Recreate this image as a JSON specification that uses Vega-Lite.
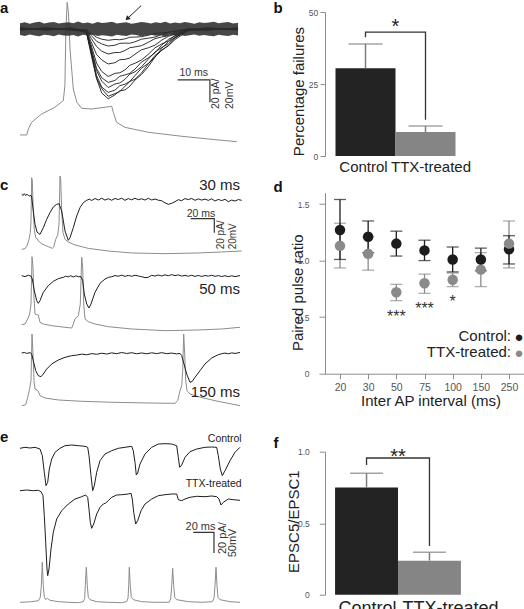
{
"$schema":"https://vega.github.io/schema/vega-lite/v6.json",
"padding":0,
"background":"white",
"config":{"font":"Liberation Sans","view":{"stroke":null},"axis":{"grid":false}},
"datasets":{
"aAp":[{"t":0,"v":-94.6},{"t":2.1,"v":-94.6},{"t":2.6,"v":-89.3},{"t":3.6,"v":-83.3},{"t":6.7,"v":-75.9},{"t":10.8,"v":-69.9},{"t":13.4,"v":-64.0},{"t":13.9,"v":-50.6},{"t":14.2,"v":-2.7},{"t":14.6,"v":23.8},{"t":15.0,"v":14.9},{"t":15.5,"v":-17.9},{"t":16.5,"v":-53.6},{"t":17.6,"v":-65.4},{"t":19.1,"v":-70.8},{"t":22.2,"v":-71.4},{"t":26.3,"v":-69.9},{"t":28.4,"v":-69.0},{"t":28.9,"v":-74.4},{"t":29.9,"v":-83.3},{"t":32.5,"v":-87.8},{"t":39.7,"v":-92.2},{"t":50.1,"v":-95.8},{"t":60.4,"v":-98.8},{"t":67.1,"v":-100.6}],
"aBand":[{"t":0,"hi":5.2,"lo":-5.4},{"t":1.5,"hi":6.1,"lo":-6.2},{"t":3,"hi":4.8,"lo":-4.9},{"t":4.5,"hi":5.9,"lo":-5.8},{"t":6,"hi":6.5,"lo":-6.4},{"t":7.5,"hi":5.0,"lo":-5.1},{"t":9,"hi":5.7,"lo":-5.6},{"t":10.5,"hi":6.3,"lo":-6.5},{"t":12,"hi":4.9,"lo":-5.0},{"t":13.5,"hi":5.5,"lo":-5.7},{"t":15,"hi":6.0,"lo":-6.1},{"t":16.5,"hi":5.2,"lo":-5.3},{"t":18,"hi":6.6,"lo":-6.7},{"t":19.5,"hi":5.1,"lo":-5.2},{"t":21,"hi":5.8,"lo":-5.9},{"t":22.5,"hi":4.7,"lo":-4.8},{"t":24,"hi":6.2,"lo":-6.3},{"t":25.5,"hi":5.4,"lo":-5.5},{"t":27,"hi":5.9,"lo":-6.0},{"t":28.5,"hi":6.4,"lo":-6.6},{"t":30,"hi":5.0,"lo":-5.1},{"t":31.5,"hi":5.6,"lo":-5.7},{"t":33,"hi":6.1,"lo":-6.2},{"t":34.5,"hi":4.8,"lo":-4.9},{"t":36,"hi":5.3,"lo":-5.4},{"t":37.5,"hi":6.3,"lo":-6.4},{"t":39,"hi":5.7,"lo":-5.8},{"t":40.5,"hi":5.0,"lo":-5.1},{"t":42,"hi":6.0,"lo":-6.1},{"t":43.5,"hi":5.4,"lo":-5.5},{"t":45,"hi":6.5,"lo":-6.6},{"t":46.5,"hi":4.9,"lo":-5.0},{"t":48,"hi":5.8,"lo":-5.9},{"t":49.5,"hi":5.2,"lo":-5.3},{"t":51,"hi":6.2,"lo":-6.3},{"t":52.5,"hi":5.5,"lo":-5.6},{"t":54,"hi":4.8,"lo":-4.9},{"t":55.5,"hi":6.0,"lo":-6.1},{"t":57,"hi":5.3,"lo":-5.4},{"t":58.5,"hi":5.9,"lo":-6.0},{"t":60,"hi":6.4,"lo":-6.5},{"t":61.5,"hi":5.1,"lo":-5.2},{"t":63,"hi":5.7,"lo":-5.8},{"t":64.5,"hi":6.2,"lo":-6.3},{"t":66,"hi":5.0,"lo":-5.1},{"t":67.5,"hi":5.6,"lo":-5.7}],
"aEpsc":[
{"s":1,"t":0,"v":1.2},{"s":1,"t":8,"v":-1.0},{"s":1,"t":16,"v":0.6},{"s":1,"t":20.6,"v":-3.5},{"s":1,"t":22,"v":-22.5},{"s":1,"t":23.7,"v":-44.2},{"s":1,"t":25.3,"v":-57.1},{"s":1,"t":27.3,"v":-62.3},{"s":1,"t":29.4,"v":-58.8},{"s":1,"t":30.9,"v":-55.2},{"s":1,"t":32.5,"v":-54.4},{"s":1,"t":34,"v":-51.1},{"s":1,"t":35.6,"v":-45.6},{"s":1,"t":37.6,"v":-40.7},{"s":1,"t":39.7,"v":-33.8},{"s":1,"t":41.8,"v":-25.0},{"s":1,"t":43.9,"v":-18.9},{"s":1,"t":46,"v":-14.8},{"s":1,"t":48,"v":-9.4},{"s":1,"t":52,"v":-1.6},{"s":1,"t":58,"v":0.9},{"s":1,"t":67.5,"v":-0.4},
{"s":2,"t":0,"v":-0.8},{"s":2,"t":8,"v":1.1},{"s":2,"t":16,"v":-0.3},{"s":2,"t":20.6,"v":-2.7},{"s":2,"t":22,"v":-20.4},{"s":2,"t":23.7,"v":-43.8},{"s":2,"t":25.3,"v":-53.2},{"s":2,"t":27.3,"v":-60.1},{"s":2,"t":29.4,"v":-57.7},{"s":2,"t":30.9,"v":-55.8},{"s":2,"t":32.5,"v":-51.2},{"s":2,"t":34,"v":-46.9},{"s":2,"t":35.6,"v":-44.8},{"s":2,"t":37.6,"v":-39.4},{"s":2,"t":39.7,"v":-31.2},{"s":2,"t":41.8,"v":-23.6},{"s":2,"t":43.9,"v":-18.9},{"s":2,"t":46,"v":-14.7},{"s":2,"t":48,"v":-8.1},{"s":2,"t":52,"v":-0.7},{"s":2,"t":58,"v":-1.0},{"s":2,"t":67.5,"v":0.6},
{"s":3,"t":0,"v":0.5},{"s":3,"t":8,"v":-0.6},{"s":3,"t":16,"v":0.9},{"s":3,"t":20.6,"v":-3.2},{"s":3,"t":22,"v":-19.5},{"s":3,"t":23.7,"v":-41.4},{"s":3,"t":25.3,"v":-51.8},{"s":3,"t":27.3,"v":-56.6},{"s":3,"t":29.4,"v":-54.6},{"s":3,"t":30.9,"v":-50.6},{"s":3,"t":32.5,"v":-49.3},{"s":3,"t":34,"v":-46.8},{"s":3,"t":35.6,"v":-41.6},{"s":3,"t":37.6,"v":-35.0},{"s":3,"t":39.7,"v":-30.8},{"s":3,"t":41.8,"v":-25.3},{"s":3,"t":43.9,"v":-17.2},{"s":3,"t":46,"v":-11.2},{"s":3,"t":48,"v":-7.6},{"s":3,"t":52,"v":-1.4},{"s":3,"t":58,"v":0.4},{"s":3,"t":67.5,"v":-0.9},
{"s":4,"t":0,"v":-0.4},{"s":4,"t":8,"v":0.8},{"s":4,"t":16,"v":-1.1},{"s":4,"t":20.6,"v":-2.2},{"s":4,"t":22,"v":-18.6},{"s":4,"t":23.7,"v":-37.0},{"s":4,"t":25.3,"v":-46.5},{"s":4,"t":27.3,"v":-52.3},{"s":4,"t":29.4,"v":-49.1},{"s":4,"t":30.9,"v":-48.2},{"s":4,"t":32.5,"v":-44.9},{"s":4,"t":34,"v":-40.3},{"s":4,"t":35.6,"v":-38.2},{"s":4,"t":37.6,"v":-33.8},{"s":4,"t":39.7,"v":-27.0},{"s":4,"t":41.8,"v":-20.5},{"s":4,"t":43.9,"v":-16.5},{"s":4,"t":46,"v":-13.1},{"s":4,"t":48,"v":-7.5},{"s":4,"t":52,"v":-0.8},{"s":4,"t":58,"v":0.7},{"s":4,"t":67.5,"v":0.3},
{"s":5,"t":0,"v":0.9},{"s":5,"t":8,"v":-0.7},{"s":5,"t":16,"v":0.4},{"s":5,"t":20.6,"v":-2.9},{"s":5,"t":22,"v":-16.4},{"s":5,"t":23.7,"v":-35.1},{"s":5,"t":25.3,"v":-43.5},{"s":5,"t":27.3,"v":-47.7},{"s":5,"t":29.4,"v":-45.9},{"s":5,"t":30.9,"v":-42.2},{"s":5,"t":32.5,"v":-41.0},{"s":5,"t":34,"v":-39.6},{"s":5,"t":35.6,"v":-35.8},{"s":5,"t":37.6,"v":-29.5},{"s":5,"t":39.7,"v":-25.8},{"s":5,"t":41.8,"v":-21.3},{"s":5,"t":43.9,"v":-14.4},{"s":5,"t":46,"v":-9.2},{"s":5,"t":48,"v":-6.2},{"s":5,"t":52,"v":-1.3},{"s":5,"t":58,"v":-0.6},{"s":5,"t":67.5,"v":0.8},
{"s":6,"t":0,"v":-1.1},{"s":6,"t":8,"v":0.5},{"s":6,"t":16,"v":-0.2},{"s":6,"t":20.6,"v":-1.8},{"s":6,"t":22,"v":-14.2},{"s":6,"t":23.7,"v":-30.4},{"s":6,"t":25.3,"v":-37.9},{"s":6,"t":27.3,"v":-42.4},{"s":6,"t":29.4,"v":-39.6},{"s":6,"t":30.9,"v":-39.1},{"s":6,"t":32.5,"v":-36.5},{"s":6,"t":34,"v":-32.4},{"s":6,"t":35.6,"v":-30.6},{"s":6,"t":37.6,"v":-27.7},{"s":6,"t":39.7,"v":-22.6},{"s":6,"t":41.8,"v":-16.8},{"s":6,"t":43.9,"v":-13.3},{"s":6,"t":46,"v":-10.6},{"s":6,"t":48,"v":-5.8},{"s":6,"t":52,"v":-0.5},{"s":6,"t":58,"v":0.9},{"s":6,"t":67.5,"v":-0.7},
{"s":7,"t":0,"v":0.3},{"s":7,"t":8,"v":-0.9},{"s":7,"t":16,"v":0.7},{"s":7,"t":20.6,"v":-1.9},{"s":7,"t":22,"v":-11.3},{"s":7,"t":23.7,"v":-22.7},{"s":7,"t":25.3,"v":-27.6},{"s":7,"t":27.3,"v":-31.2},{"s":7,"t":29.4,"v":-30.1},{"s":7,"t":30.9,"v":-27.4},{"s":7,"t":32.5,"v":-27.1},{"s":7,"t":34,"v":-25.9},{"s":7,"t":35.6,"v":-22.5},{"s":7,"t":37.6,"v":-18.6},{"s":7,"t":39.7,"v":-16.8},{"s":7,"t":41.8,"v":-14.4},{"s":7,"t":43.9,"v":-9.9},{"s":7,"t":46,"v":-6.4},{"s":7,"t":48,"v":-4.7},{"s":7,"t":52,"v":-0.9},{"s":7,"t":58,"v":0.2},{"s":7,"t":67.5,"v":0.6},
{"s":8,"t":0,"v":-0.6},{"s":8,"t":8,"v":0.4},{"s":8,"t":16,"v":-0.8},{"s":8,"t":20.6,"v":-1.2},{"s":8,"t":22,"v":-8.1},{"s":8,"t":23.7,"v":-15.6},{"s":8,"t":25.3,"v":-19.8},{"s":8,"t":27.3,"v":-22.3},{"s":8,"t":29.4,"v":-21.0},{"s":8,"t":30.9,"v":-21.0},{"s":8,"t":32.5,"v":-19.2},{"s":8,"t":34,"v":-16.7},{"s":8,"t":35.6,"v":-16.0},{"s":8,"t":37.6,"v":-14.9},{"s":8,"t":39.7,"v":-11.9},{"s":8,"t":41.8,"v":-8.6},{"s":8,"t":43.9,"v":-7.1},{"s":8,"t":46,"v":-5.9},{"s":8,"t":48,"v":-3.3},{"s":8,"t":52,"v":-0.4},{"s":8,"t":58,"v":-0.8},{"s":8,"t":67.5,"v":0.5},
{"s":9,"t":0,"v":0.7},{"s":9,"t":8,"v":-0.3},{"s":9,"t":16,"v":0.2},{"s":9,"t":20.6,"v":-0.9},{"s":9,"t":22,"v":-5.6},{"s":9,"t":23.7,"v":-10.9},{"s":9,"t":25.3,"v":-13.3},{"s":9,"t":27.3,"v":-15.2},{"s":9,"t":29.4,"v":-14.5},{"s":9,"t":30.9,"v":-12.8},{"s":9,"t":32.5,"v":-12.6},{"s":9,"t":34,"v":-12.7},{"s":9,"t":35.6,"v":-11.4},{"s":9,"t":37.6,"v":-9.1},{"s":9,"t":39.7,"v":-8.2},{"s":9,"t":41.8,"v":-7.2},{"s":9,"t":43.9,"v":-4.9},{"s":9,"t":46,"v":-3.0},{"s":9,"t":48,"v":-2.3},{"s":9,"t":52,"v":0.3},{"s":9,"t":58,"v":0.6},{"s":9,"t":67.5,"v":-0.4},
{"s":10,"t":0,"v":-0.2},{"s":10,"t":8,"v":0.6},{"s":10,"t":16,"v":-0.5},{"s":10,"t":20.6,"v":-0.6},{"s":10,"t":22,"v":-3.8},{"s":10,"t":23.7,"v":-7.4},{"s":10,"t":25.3,"v":-9.1},{"s":10,"t":27.3,"v":-10.1},{"s":10,"t":29.4,"v":-9.3},{"s":10,"t":30.9,"v":-9.6},{"s":10,"t":32.5,"v":-8.8},{"s":10,"t":34,"v":-7.4},{"s":10,"t":35.6,"v":-7.2},{"s":10,"t":37.6,"v":-6.9},{"s":10,"t":39.7,"v":-5.6},{"s":10,"t":41.8,"v":-4.0},{"s":10,"t":43.9,"v":-3.4},{"s":10,"t":46,"v":-2.9},{"s":10,"t":48,"v":-1.6},{"s":10,"t":52,"v":-0.3},{"s":10,"t":58,"v":-0.5},{"s":10,"t":67.5,"v":0.7}],
"cI":[
{"s":1,"t":0.0,"v":-33.3},{"s":1,"t":1.5,"v":-34.8},{"s":1,"t":2.6,"v":-32.4},{"s":1,"t":4.0,"v":-35.2},{"s":1,"t":5.3,"v":-33.0},{"s":1,"t":6.6,"v":-34.9},{"s":1,"t":8.0,"v":-35.7},{"s":1,"t":9.2,"v":-34.6},{"s":1,"t":10.0,"v":-37.1},{"s":1,"t":11.6,"v":-57.1},{"s":1,"t":13.3,"v":-76.2},{"s":1,"t":15.3,"v":-87.1},{"s":1,"t":18.3,"v":-90.5},{"s":1,"t":21.6,"v":-81.0},{"s":1,"t":25.0,"v":-69.0},{"s":1,"t":28.3,"v":-59.5},{"s":1,"t":31.6,"v":-51.4},{"s":1,"t":35.0,"v":-47.6},{"s":1,"t":37.3,"v":-46.7},{"s":1,"t":40.0,"v":-57.1},{"s":1,"t":43.3,"v":-85.7},{"s":1,"t":46.6,"v":-99.0},{"s":1,"t":48.3,"v":-95.2},{"s":1,"t":51.6,"v":-81.0},{"s":1,"t":55.0,"v":-64.3},{"s":1,"t":58.3,"v":-52.4},{"s":1,"t":61.6,"v":-45.2},{"s":1,"t":65.0,"v":-41.9},{"s":1,"t":67.5,"v":-40.2},{"s":1,"t":70.0,"v":-42.1},{"s":1,"t":73.3,"v":-39.3},{"s":1,"t":76.6,"v":-41.4},{"s":1,"t":80.0,"v":-38.9},{"s":1,"t":83.3,"v":-41.6},{"s":1,"t":86.6,"v":-39.6},{"s":1,"t":90.0,"v":-41.8},{"s":1,"t":93.3,"v":-39.2},{"s":1,"t":96.6,"v":-40.8},{"s":1,"t":100.0,"v":-38.8},{"s":1,"t":103.3,"v":-41.9},{"s":1,"t":106.6,"v":-39.4},{"s":1,"t":110.0,"v":-41.2},{"s":1,"t":113.3,"v":-38.9},{"s":1,"t":116.6,"v":-41.0},{"s":1,"t":120.0,"v":-39.7},{"s":1,"t":123.3,"v":-41.5},{"s":1,"t":126.6,"v":-39.0},{"s":1,"t":130.0,"v":-41.4},{"s":1,"t":133.3,"v":-40.0},{"s":1,"t":136.6,"v":-41.7},{"s":1,"t":140.0,"v":-42.5},{"s":1,"t":143.3,"v":-45.5},{"s":1,"t":146.6,"v":-47.6},{"s":1,"t":150.0,"v":-46.2},{"s":1,"t":153.3,"v":-43.8},{"s":1,"t":156.6,"v":-41.0},{"s":1,"t":160.0,"v":-42.4},{"s":1,"t":163.3,"v":-39.4},{"s":1,"t":166.6,"v":-40.9},{"s":1,"t":170.0,"v":-39.2},{"s":1,"t":173.3,"v":-41.9},{"s":1,"t":176.6,"v":-39.8},{"s":1,"t":180.0,"v":-41.6},{"s":1,"t":183.3,"v":-40.1},{"s":1,"t":186.6,"v":-42.0},{"s":1,"t":190.0,"v":-39.7},{"s":1,"t":193.3,"v":-42.9},{"s":1,"t":196.6,"v":-40.6},{"s":1,"t":200.0,"v":-42.3},{"s":1,"t":203.3,"v":-40.4},{"s":1,"t":206.6,"v":-43.8},{"s":1,"t":210.0,"v":-41.5},{"s":1,"t":213.3,"v":-43.0},{"s":1,"t":216.6,"v":-40.8},{"s":1,"t":220.0,"v":-41.9},
{"s":2,"t":0.0,"v":-149.5},{"s":2,"t":3.3,"v":-150.8},{"s":2,"t":6.6,"v":-149.0},{"s":2,"t":9.3,"v":-150.2},{"s":2,"t":10.6,"v":-154.3},{"s":2,"t":12.6,"v":-171.0},{"s":2,"t":15.0,"v":-185.2},{"s":2,"t":16.6,"v":-189.0},{"s":2,"t":18.3,"v":-185.2},{"s":2,"t":21.6,"v":-173.3},{"s":2,"t":26.6,"v":-163.8},{"s":2,"t":31.6,"v":-157.6},{"s":2,"t":36.6,"v":-153.8},{"s":2,"t":41.6,"v":-151.9},{"s":2,"t":44.0,"v":-150.3},{"s":2,"t":46.6,"v":-151.2},{"s":2,"t":49.0,"v":-149.6},{"s":2,"t":51.6,"v":-151.4},{"s":2,"t":54.0,"v":-149.8},{"s":2,"t":56.6,"v":-150.9},{"s":2,"t":59.3,"v":-151.0},{"s":2,"t":61.0,"v":-156.7},{"s":2,"t":62.6,"v":-175.7},{"s":2,"t":65.0,"v":-190.0},{"s":2,"t":67.3,"v":-195.7},{"s":2,"t":69.3,"v":-190.0},{"s":2,"t":73.3,"v":-173.3},{"s":2,"t":78.3,"v":-160.5},{"s":2,"t":83.3,"v":-154.3},{"s":2,"t":86.6,"v":-152.0},{"s":2,"t":90.0,"v":-151.0},{"s":2,"t":93.3,"v":-149.4},{"s":2,"t":96.6,"v":-150.3},{"s":2,"t":100.0,"v":-148.8},{"s":2,"t":103.3,"v":-150.5},{"s":2,"t":106.6,"v":-149.2},{"s":2,"t":110.0,"v":-150.4},{"s":2,"t":113.3,"v":-148.9},{"s":2,"t":116.6,"v":-150.0},{"s":2,"t":120.0,"v":-151.0},{"s":2,"t":123.3,"v":-152.4},{"s":2,"t":126.6,"v":-151.8},{"s":2,"t":130.0,"v":-149.0},{"s":2,"t":133.3,"v":-150.1},{"s":2,"t":136.6,"v":-148.6},{"s":2,"t":140.0,"v":-149.9},{"s":2,"t":143.3,"v":-148.3},{"s":2,"t":146.6,"v":-149.6},{"s":2,"t":150.0,"v":-148.1},{"s":2,"t":153.3,"v":-149.5},{"s":2,"t":156.6,"v":-148.4},{"s":2,"t":160.0,"v":-150.1},{"s":2,"t":163.3,"v":-149.0},{"s":2,"t":166.6,"v":-150.4},{"s":2,"t":170.0,"v":-148.9},{"s":2,"t":173.3,"v":-150.6},{"s":2,"t":176.6,"v":-149.2},{"s":2,"t":180.0,"v":-150.7},{"s":2,"t":183.3,"v":-149.3},{"s":2,"t":186.6,"v":-150.2},{"s":2,"t":190.0,"v":-148.9},{"s":2,"t":193.3,"v":-150.5},{"s":2,"t":196.6,"v":-149.4},{"s":2,"t":200.0,"v":-150.8},{"s":2,"t":203.3,"v":-149.6},{"s":2,"t":206.6,"v":-150.9},{"s":2,"t":210.0,"v":-149.7},{"s":2,"t":213.3,"v":-150.8},{"s":2,"t":218.3,"v":-149.5},
{"s":3,"t":0.0,"v":-260.0},{"s":3,"t":2.5,"v":-259.2},{"s":3,"t":5.0,"v":-260.6},{"s":3,"t":8.3,"v":-259.5},{"s":3,"t":10.0,"v":-261.4},{"s":3,"t":11.6,"v":-271.0},{"s":3,"t":14.0,"v":-285.2},{"s":3,"t":16.6,"v":-292.4},{"s":3,"t":19.3,"v":-293.8},{"s":3,"t":21.6,"v":-290.0},{"s":3,"t":25.0,"v":-282.9},{"s":3,"t":30.0,"v":-275.7},{"s":3,"t":36.6,"v":-270.0},{"s":3,"t":43.3,"v":-266.2},{"s":3,"t":50.0,"v":-263.8},{"s":3,"t":55.0,"v":-263.0},{"s":3,"t":60.0,"v":-261.6},{"s":3,"t":65.0,"v":-262.5},{"s":3,"t":70.0,"v":-260.9},{"s":3,"t":75.0,"v":-261.8},{"s":3,"t":80.0,"v":-260.3},{"s":3,"t":85.0,"v":-261.5},{"s":3,"t":90.0,"v":-259.8},{"s":3,"t":95.0,"v":-261.0},{"s":3,"t":100.0,"v":-259.3},{"s":3,"t":105.0,"v":-260.7},{"s":3,"t":110.0,"v":-259.6},{"s":3,"t":115.0,"v":-261.1},{"s":3,"t":120.0,"v":-259.9},{"s":3,"t":125.0,"v":-261.2},{"s":3,"t":130.0,"v":-259.7},{"s":3,"t":135.0,"v":-260.9},{"s":3,"t":140.0,"v":-259.5},{"s":3,"t":145.0,"v":-261.0},{"s":3,"t":150.0,"v":-260.1},{"s":3,"t":155.0,"v":-261.3},{"s":3,"t":158.3,"v":-260.6},{"s":3,"t":160.0,"v":-263.8},{"s":3,"t":162.3,"v":-275.7},{"s":3,"t":165.0,"v":-290.0},{"s":3,"t":168.3,"v":-301.9},{"s":3,"t":170.6,"v":-300.5},{"s":3,"t":173.3,"v":-294.8},{"s":3,"t":178.3,"v":-285.2},{"s":3,"t":183.3,"v":-275.7},{"s":3,"t":190.0,"v":-267.1},{"s":3,"t":196.6,"v":-262.4},{"s":3,"t":200.0,"v":-261.0},{"s":3,"t":203.3,"v":-260.1},{"s":3,"t":206.6,"v":-261.2},{"s":3,"t":210.0,"v":-259.8},{"s":3,"t":213.3,"v":-260.6},{"s":3,"t":218.3,"v":-259.3}],
"cV":[
{"s":1,"t":0.0,"v":-111.9},{"s":1,"t":3.3,"v":-111.0},{"s":1,"t":5.3,"v":-107.1},{"s":1,"t":7.3,"v":-97.6},{"s":1,"t":8.6,"v":-88.1},{"s":1,"t":9.3,"v":-71.4},{"s":1,"t":10.0,"v":-9.5},{"s":1,"t":10.6,"v":-14.3},{"s":1,"t":11.6,"v":-57.1},{"s":1,"t":12.6,"v":-83.3},{"s":1,"t":14.0,"v":-95.2},{"s":1,"t":15.6,"v":-96.7},{"s":1,"t":16.6,"v":-100.0},{"s":1,"t":20.0,"v":-103.8},{"s":1,"t":25.0,"v":-107.1},{"s":1,"t":30.6,"v":-110.5},{"s":1,"t":32.0,"v":-108.6},{"s":1,"t":34.0,"v":-97.6},{"s":1,"t":36.0,"v":-91.4},{"s":1,"t":37.3,"v":-76.2},{"s":1,"t":38.3,"v":-7.1},{"s":1,"t":39.0,"v":-11.9},{"s":1,"t":40.0,"v":-57.1},{"s":1,"t":41.3,"v":-88.1},{"s":1,"t":43.3,"v":-97.6},{"s":1,"t":46.6,"v":-101.4},{"s":1,"t":53.3,"v":-105.7},{"s":1,"t":66.6,"v":-110.5},{"s":1,"t":86.6,"v":-114.3},{"s":1,"t":110.0,"v":-117.1},{"s":1,"t":143.3,"v":-118.1},{"s":1,"t":176.6,"v":-117.1},{"s":1,"t":200.0,"v":-115.7},{"s":1,"t":220.0,"v":-114.3},
{"s":2,"t":0.0,"v":-219.5},{"s":2,"t":3.3,"v":-218.6},{"s":2,"t":6.0,"v":-211.4},{"s":2,"t":8.0,"v":-204.3},{"s":2,"t":9.3,"v":-190.0},{"s":2,"t":10.3,"v":-122.4},{"s":2,"t":11.3,"v":-137.6},{"s":2,"t":12.3,"v":-180.5},{"s":2,"t":13.3,"v":-204.3},{"s":2,"t":15.0,"v":-205.2},{"s":2,"t":16.6,"v":-205.7},{"s":2,"t":18.3,"v":-216.2},{"s":2,"t":21.6,"v":-218.6},{"s":2,"t":30.0,"v":-221.0},{"s":2,"t":43.3,"v":-223.3},{"s":2,"t":50.0,"v":-224.3},{"s":2,"t":51.6,"v":-218.6},{"s":2,"t":53.3,"v":-211.4},{"s":2,"t":56.6,"v":-206.7},{"s":2,"t":58.6,"v":-190.0},{"s":2,"t":60.0,"v":-123.3},{"s":2,"t":61.0,"v":-137.6},{"s":2,"t":62.0,"v":-190.0},{"s":2,"t":63.3,"v":-211.4},{"s":2,"t":66.6,"v":-215.2},{"s":2,"t":73.3,"v":-218.6},{"s":2,"t":86.6,"v":-222.4},{"s":2,"t":110.0,"v":-225.7},{"s":2,"t":143.3,"v":-228.1},{"s":2,"t":176.6,"v":-227.1},{"s":2,"t":200.0,"v":-225.7},{"s":2,"t":218.3,"v":-223.3},
{"s":3,"t":0.0,"v":-335.2},{"s":3,"t":4.0,"v":-333.8},{"s":3,"t":6.0,"v":-323.3},{"s":3,"t":7.6,"v":-313.8},{"s":3,"t":9.3,"v":-299.5},{"s":3,"t":10.3,"v":-232.9},{"s":3,"t":11.3,"v":-261.4},{"s":3,"t":12.3,"v":-299.5},{"s":3,"t":13.3,"v":-311.4},{"s":3,"t":15.3,"v":-312.9},{"s":3,"t":16.6,"v":-314.8},{"s":3,"t":18.3,"v":-321.0},{"s":3,"t":23.3,"v":-324.3},{"s":3,"t":36.6,"v":-327.1},{"s":3,"t":60.0,"v":-329.0},{"s":3,"t":93.3,"v":-330.5},{"s":3,"t":126.6,"v":-331.4},{"s":3,"t":153.3,"v":-331.9},{"s":3,"t":156.0,"v":-328.1},{"s":3,"t":158.3,"v":-313.8},{"s":3,"t":160.0,"v":-306.7},{"s":3,"t":161.0,"v":-285.2},{"s":3,"t":162.0,"v":-232.9},{"s":3,"t":163.0,"v":-261.4},{"s":3,"t":164.0,"v":-299.5},{"s":3,"t":165.3,"v":-313.8},{"s":3,"t":168.3,"v":-318.6},{"s":3,"t":176.6,"v":-322.4},{"s":3,"t":193.3,"v":-328.1},{"s":3,"t":210.0,"v":-332.9},{"s":3,"t":218.3,"v":-335.2}],
"eI":[
{"s":"c","t":0.0,"v":-19.3},{"s":"c","t":5.0,"v":-18.3},{"s":"c","t":10.0,"v":-19.0},{"s":"c","t":15.0,"v":-18.3},{"s":"c","t":20.0,"v":-20.0},{"s":"c","t":22.3,"v":-26.7},{"s":"c","t":24.3,"v":-43.3},{"s":"c","t":26.0,"v":-56.7},{"s":"c","t":27.7,"v":-53.3},{"s":"c","t":29.3,"v":-40.0},{"s":"c","t":31.7,"v":-30.0},{"s":"c","t":35.0,"v":-23.3},{"s":"c","t":40.0,"v":-19.3},{"s":"c","t":45.0,"v":-16.7},{"s":"c","t":51.7,"v":-16.0},{"s":"c","t":58.3,"v":-16.7},{"s":"c","t":65.0,"v":-17.3},{"s":"c","t":67.7,"v":-18.3},{"s":"c","t":69.0,"v":-26.7},{"s":"c","t":71.0,"v":-46.7},{"s":"c","t":72.7,"v":-61.7},{"s":"c","t":74.3,"v":-56.7},{"s":"c","t":76.7,"v":-43.3},{"s":"c","t":80.0,"v":-31.7},{"s":"c","t":85.0,"v":-25.0},{"s":"c","t":91.7,"v":-21.7},{"s":"c","t":98.3,"v":-19.3},{"s":"c","t":105.0,"v":-18.3},{"s":"c","t":111.7,"v":-17.3},{"s":"c","t":113.3,"v":-21.7},{"s":"c","t":115.0,"v":-33.3},{"s":"c","t":116.3,"v":-46.0},{"s":"c","t":117.7,"v":-44.0},{"s":"c","t":120.0,"v":-35.0},{"s":"c","t":125.0,"v":-25.0},{"s":"c","t":131.7,"v":-18.3},{"s":"c","t":138.3,"v":-15.0},{"s":"c","t":145.0,"v":-14.7},{"s":"c","t":151.7,"v":-15.0},{"s":"c","t":156.7,"v":-16.7},{"s":"c","t":158.3,"v":-28.3},{"s":"c","t":159.7,"v":-38.3},{"s":"c","t":161.7,"v":-36.0},{"s":"c","t":165.0,"v":-28.3},{"s":"c","t":170.0,"v":-22.7},{"s":"c","t":176.7,"v":-20.0},{"s":"c","t":185.0,"v":-18.3},{"s":"c","t":191.7,"v":-18.0},{"s":"c","t":196.7,"v":-18.3},{"s":"c","t":198.3,"v":-26.7},{"s":"c","t":200.3,"v":-40.0},{"s":"c","t":202.3,"v":-46.7},{"s":"c","t":205.0,"v":-41.7},{"s":"c","t":210.0,"v":-31.7},{"s":"c","t":215.0,"v":-23.3},{"s":"c","t":220.0,"v":-18.3},
{"s":"x","t":0.0,"v":-61.7},{"s":"x","t":6.7,"v":-61.0},{"s":"x","t":13.3,"v":-61.7},{"s":"x","t":18.3,"v":-61.3},{"s":"x","t":21.0,"v":-62.7},{"s":"x","t":23.0,"v":-66.7},{"s":"x","t":24.3,"v":-86.7},{"s":"x","t":25.7,"v":-113.3},{"s":"x","t":27.0,"v":-140.0},{"s":"x","t":27.7,"v":-146.7},{"s":"x","t":29.0,"v":-140.0},{"s":"x","t":31.0,"v":-120.0},{"s":"x","t":33.3,"v":-103.3},{"s":"x","t":36.7,"v":-90.0},{"s":"x","t":41.7,"v":-81.7},{"s":"x","t":48.3,"v":-75.0},{"s":"x","t":55.0,"v":-70.0},{"s":"x","t":61.7,"v":-67.7},{"s":"x","t":65.7,"v":-66.0},{"s":"x","t":67.7,"v":-68.3},{"s":"x","t":69.0,"v":-80.0},{"s":"x","t":70.3,"v":-93.3},{"s":"x","t":71.7,"v":-99.3},{"s":"x","t":73.7,"v":-95.0},{"s":"x","t":76.7,"v":-85.0},{"s":"x","t":80.0,"v":-78.3},{"s":"x","t":83.3,"v":-75.0},{"s":"x","t":85.7,"v":-74.0},{"s":"x","t":88.3,"v":-71.7},{"s":"x","t":91.7,"v":-68.3},{"s":"x","t":96.7,"v":-66.0},{"s":"x","t":101.7,"v":-65.7},{"s":"x","t":108.3,"v":-65.0},{"s":"x","t":111.0,"v":-64.3},{"s":"x","t":112.3,"v":-70.0},{"s":"x","t":113.7,"v":-83.3},{"s":"x","t":115.7,"v":-95.0},{"s":"x","t":117.7,"v":-91.7},{"s":"x","t":121.0,"v":-81.7},{"s":"x","t":125.0,"v":-75.0},{"s":"x","t":131.7,"v":-70.0},{"s":"x","t":138.3,"v":-66.7},{"s":"x","t":145.0,"v":-65.7},{"s":"x","t":151.7,"v":-65.0},{"s":"x","t":156.7,"v":-65.0},{"s":"x","t":158.3,"v":-70.7},{"s":"x","t":161.7,"v":-71.7},{"s":"x","t":165.0,"v":-70.0},{"s":"x","t":170.0,"v":-68.3},{"s":"x","t":176.7,"v":-67.3},{"s":"x","t":185.0,"v":-67.7},{"s":"x","t":191.7,"v":-67.0},{"s":"x","t":196.7,"v":-67.7},{"s":"x","t":199.0,"v":-70.0},{"s":"x","t":201.0,"v":-76.0},{"s":"x","t":203.3,"v":-73.3},{"s":"x","t":208.3,"v":-70.0},{"s":"x","t":213.3,"v":-70.7},{"s":"x","t":220.0,"v":-71.3}],
"eV":[{"t":0.0,"v":-173.3},{"t":11.7,"v":-172.7},{"t":18.3,"v":-171.7},{"t":20.3,"v":-168.3},{"t":21.3,"v":-156.7},{"t":22.3,"v":-133.3},{"t":23.3,"v":-156.7},{"t":24.3,"v":-168.3},{"t":25.7,"v":-170.7},{"t":27.3,"v":-169.3},{"t":30.0,"v":-171.3},{"t":38.3,"v":-172.7},{"t":48.3,"v":-173.3},{"t":58.3,"v":-173.7},{"t":63.3,"v":-172.7},{"t":64.7,"v":-169.3},{"t":65.3,"v":-156.7},{"t":66.3,"v":-138.3},{"t":67.3,"v":-156.7},{"t":68.3,"v":-168.3},{"t":70.0,"v":-170.7},{"t":76.7,"v":-172.7},{"t":88.3,"v":-173.3},{"t":101.7,"v":-173.7},{"t":106.7,"v":-172.7},{"t":108.0,"v":-169.3},{"t":108.7,"v":-156.7},{"t":109.3,"v":-138.3},{"t":110.3,"v":-156.7},{"t":111.3,"v":-168.3},{"t":113.3,"v":-170.7},{"t":121.7,"v":-172.7},{"t":135.0,"v":-173.3},{"t":149.0,"v":-173.3},{"t":150.7,"v":-170.0},{"t":151.7,"v":-156.7},{"t":152.7,"v":-139.3},{"t":153.7,"v":-156.7},{"t":154.7,"v":-168.3},{"t":156.7,"v":-170.7},{"t":168.3,"v":-172.7},{"t":181.7,"v":-173.3},{"t":192.3,"v":-172.7},{"t":194.0,"v":-169.3},{"t":195.0,"v":-156.7},{"t":196.0,"v":-138.3},{"t":197.0,"v":-156.7},{"t":198.0,"v":-168.3},{"t":200.0,"v":-170.7},{"t":210.0,"v":-172.7},{"t":220.0,"v":-173.3}],
"bBars":[{"g":"Control","m":30.5,"e":38.9},{"g":"TTX-treated","m":8.3,"e":10.4}],
"bBr":[{"g":"Control","m":41.2,"o":1},{"g":"Control","m":43,"o":2},{"g":"TTX-treated","m":43,"o":3},{"g":"TTX-treated","m":12.6,"o":4}],
"fBars":[{"g":"Control","m":0.75,"e":0.85},{"g":"TTX-treated","m":0.238,"e":0.296}],
"fBr":[{"g":"Control","m":0.907,"o":1},{"g":"Control","m":0.956,"o":2},{"g":"TTX-treated","m":0.956,"o":3},{"g":"TTX-treated","m":0.34,"o":4}],
"dPts":[
{"x":20,"g":"Control","m":1.27,"lo":1.01,"hi":1.54},{"x":30,"g":"Control","m":1.21,"lo":1.07,"hi":1.35},{"x":50,"g":"Control","m":1.15,"lo":1.04,"hi":1.26},{"x":75,"g":"Control","m":1.09,"lo":1.0,"hi":1.18},{"x":100,"g":"Control","m":1.01,"lo":0.9,"hi":1.12},{"x":150,"g":"Control","m":1.01,"lo":0.91,"hi":1.11},{"x":250,"g":"Control","m":1.1,"lo":0.97,"hi":1.22},
{"x":20,"g":"TTX","m":1.13,"lo":0.935,"hi":1.33},{"x":30,"g":"TTX","m":1.06,"lo":0.915,"hi":1.21},{"x":50,"g":"TTX","m":0.72,"lo":0.646,"hi":0.79},{"x":75,"g":"TTX","m":0.8,"lo":0.71,"hi":0.88},{"x":100,"g":"TTX","m":0.83,"lo":0.77,"hi":0.89},{"x":150,"g":"TTX","m":0.92,"lo":0.77,"hi":1.07},{"x":250,"g":"TTX","m":1.15,"lo":0.935,"hi":1.35}]
},
"hconcat":[
{"spacing":0,"vconcat":[
{"width":245,"height":159,
"encoding":{"x":{"field":"t","type":"quantitative","scale":{"domain":[-6.19,69.66],"nice":false,"zero":false},"axis":null},"y":{"field":"v","type":"quantitative","scale":{"domain":[-126.79,15.18],"nice":false,"zero":false},"axis":null}},
"layer":[
{"data":{"name":"aAp"},"mark":{"type":"line","color":"#8c8c8c","strokeWidth":1}},
{"data":{"name":"aEpsc"},"mark":{"type":"line","color":"#1e1e1e","strokeWidth":0.9},"encoding":{"detail":{"field":"s","type":"nominal"}}},
{"data":{"name":"aBand"},"mark":{"type":"area","color":"#2e2e2e","opacity":0.88},"encoding":{"y":{"field":"lo","type":"quantitative"},"y2":{"field":"hi"}}},
{"data":{"values":[{"t":48.8,"v":-45.5,"o":1},{"t":58.8,"v":-45.5,"o":2},{"t":58.8,"v":-65.4,"o":3}]},"mark":{"type":"line","color":"#333333","strokeWidth":1.2},"encoding":{"order":{"field":"o","type":"quantitative"}}},
{"data":{"values":[{"t":37.5,"v":20.8,"t2":33.2,"v2":9.2}]},"mark":{"type":"rule","color":"#222222","strokeWidth":1},"encoding":{"x2":{"field":"t2"},"y2":{"field":"v2"}}},
{"data":{"values":[{"t":33.2,"v":9.2}]},"mark":{"type":"point","shape":"triangle-up","filled":true,"color":"#222222","size":28,"angle":225,"opacity":1}},
{"data":{"values":[{"t":53.8,"v":-42.2,"txt":"10 ms"}]},"mark":{"type":"text","fontSize":10.5,"color":"#333333","align":"center","baseline":"alphabetic"},"encoding":{"text":{"field":"txt"}}},
{"data":{"values":[{"t":60.8,"v":-71.4,"txt":"20 pA/"},{"t":65.0,"v":-71.4,"txt":"20mV"}]},"mark":{"type":"text","fontSize":10.5,"color":"#333333","align":"left","baseline":"middle","angle":-90},"encoding":{"text":{"field":"txt"}}},
{"data":{"values":[{"t":-6.19,"v":14.7,"txt":"a"}]},"mark":{"type":"text","fontSize":15,"fontWeight":"bold","color":"#111111","align":"left","baseline":"alphabetic"},"encoding":{"text":{"field":"txt"}}}
]},
{"width":245,"height":258,
"encoding":{"x":{"field":"t","type":"quantitative","scale":{"domain":[-21.7,223.3],"nice":false,"zero":false},"axis":null},"y":{"field":"v","type":"quantitative","scale":{"domain":[-368.57,0],"nice":false,"zero":false},"axis":null}},
"layer":[
{"data":{"name":"cV"},"mark":{"type":"line","color":"#8c8c8c","strokeWidth":1},"encoding":{"detail":{"field":"s","type":"nominal"}}},
{"data":{"name":"cI"},"mark":{"type":"line","color":"#1e1e1e","strokeWidth":1},"encoding":{"detail":{"field":"s","type":"nominal"}}},
{"data":{"values":[{"t":169,"v":-68.1,"o":1},{"t":192.6,"v":-68.1,"o":2},{"t":192.6,"v":-88.1,"o":3}]},"mark":{"type":"line","color":"#333333","strokeWidth":1.2},"encoding":{"order":{"field":"o","type":"quantitative"}}},
{"data":{"values":[{"t":218.3,"v":-27.1,"txt":"30 ms"},{"t":218.3,"v":-175.7,"txt":"50 ms"},{"t":218.3,"v":-322.9,"txt":"150 ms"}]},"mark":{"type":"text","fontSize":15,"color":"#222222","align":"right","baseline":"alphabetic"},"encoding":{"text":{"field":"txt"}}},
{"data":{"values":[{"t":179.3,"v":-65,"txt":"20 ms"}]},"mark":{"type":"text","fontSize":10.5,"color":"#333333","align":"center","baseline":"alphabetic"},"encoding":{"text":{"field":"txt"}}},
{"data":{"values":[{"t":199.1,"v":-111.9,"txt":"20 pA/"},{"t":211.3,"v":-111.9,"txt":"20mV"}]},"mark":{"type":"text","fontSize":10,"color":"#333333","align":"left","baseline":"middle","angle":-90},"encoding":{"text":{"field":"txt"}}},
{"data":{"values":[{"t":-21.7,"v":-26.7,"txt":"c"}]},"mark":{"type":"text","fontSize":15,"fontWeight":"bold","color":"#111111","align":"left","baseline":"alphabetic"},"encoding":{"text":{"field":"txt"}}}
]},
{"width":245,"height":179,
"encoding":{"x":{"field":"t","type":"quantitative","scale":{"domain":[-20,225],"nice":false,"zero":false},"axis":null},"y":{"field":"v","type":"quantitative","scale":{"domain":[-179,0],"nice":false,"zero":false},"axis":null}},
"layer":[
{"data":{"name":"eV"},"mark":{"type":"line","color":"#8c8c8c","strokeWidth":1}},
{"data":{"name":"eI"},"mark":{"type":"line","color":"#1e1e1e","strokeWidth":1},"encoding":{"detail":{"field":"s","type":"nominal"}}},
{"data":{"values":[{"t":173.3,"v":-103.3,"o":1},{"t":194,"v":-103.3,"o":2},{"t":194,"v":-124,"o":3}]},"mark":{"type":"line","color":"#333333","strokeWidth":1.2},"encoding":{"order":{"field":"o","type":"quantitative"}}},
{"data":{"values":[{"t":221.7,"v":-13.3,"txt":"Control"},{"t":221.7,"v":-58.3,"txt":"TTX-treated"}]},"mark":{"type":"text","fontSize":10.5,"color":"#222222","align":"right","baseline":"alphabetic"},"encoding":{"text":{"field":"txt"}}},
{"data":{"values":[{"t":180.5,"v":-101,"txt":"20 ms"}]},"mark":{"type":"text","fontSize":11,"color":"#333333","align":"center","baseline":"alphabetic"},"encoding":{"text":{"field":"txt"}}},
{"data":{"values":[{"t":202.8,"v":-125,"txt":"20 pA/"},{"t":213,"v":-128.3,"txt":"50mV"}]},"mark":{"type":"text","fontSize":11,"color":"#333333","align":"left","baseline":"middle","angle":-90},"encoding":{"text":{"field":"txt"}}},
{"data":{"values":[{"t":-20,"v":-12.7,"txt":"e"}]},"mark":{"type":"text","fontSize":15,"fontWeight":"bold","color":"#111111","align":"left","baseline":"alphabetic"},"encoding":{"text":{"field":"txt"}}}
]}
]},
{"spacing":4.7,"vconcat":[
{"width":141,"height":144,
"title":{"text":"b","anchor":"start","frame":"group","dx":-51.5,"offset":-20,"baseline":"alphabetic","fontSize":15,"fontWeight":"bold","color":"#111111"},
"data":{"name":"bBars"},
"encoding":{"x":{"field":"g","type":"nominal","title":null,"scale":{"paddingInner":0,"paddingOuter":0.175},"axis":{"domain":false,"ticks":false,"tickSize":0,"labelAngle":0,"labelFontSize":15,"labelColor":"#222222","labelPadding":3.6,"labelOffset":{"condition":{"test":"datum.value === 'Control'","value":-2},"value":5.5}}}},
"layer":[
{"mark":{"type":"bar"},"encoding":{"y":{"field":"m","type":"quantitative","title":"Percentage failures","scale":{"domain":[0,50],"nice":false},"axis":{"values":[0,25,50],"tickSize":5,"labelPadding":2.3,"labelFontSize":8.5,"labelColor":"#555555","domainColor":"#8c8c8c","tickColor":"#8c8c8c","titleFontSize":15,"titleFontWeight":"normal","titleColor":"#222222","titleX":-19,"titleY":79,"titleAngle":-90,"titleBaseline":"bottom","titleAlign":"center"}},"color":{"condition":{"test":"datum.g === 'Control'","value":"#232323"},"value":"#858585"}}},
{"mark":{"type":"rule","color":"#7d7d7d","strokeWidth":1.5},"encoding":{"y":{"field":"m","type":"quantitative","title":"Percentage failures"},"y2":{"field":"e"}}},
{"mark":{"type":"tick","color":"#7d7d7d","thickness":1.5,"size":34},"encoding":{"y":{"field":"e","type":"quantitative","title":"Percentage failures"}}},
{"data":{"name":"bBr"},"mark":{"type":"line","color":"#333333","strokeWidth":1.3},"encoding":{"y":{"field":"m","type":"quantitative","title":"Percentage failures"},"order":{"field":"o","type":"quantitative"}}},
{"data":{"values":[{"g":"Control","m":42.7,"s":"*"}]},"mark":{"type":"text","fontSize":20,"color":"#222222","baseline":"alphabetic","align":"center"},"encoding":{"x":{"field":"g","type":"nominal","title":null,"bandPosition":1},"y":{"field":"m","type":"quantitative","title":"Percentage failures"},"text":{"field":"s"}}}
]},
{"spacing":27,"vconcat":[
{"width":199,"height":181,
"title":{"text":"d","anchor":"start","frame":"group","dx":-51.5,"offset":-14.4,"baseline":"alphabetic","fontSize":15,"fontWeight":"bold","color":"#111111"},
"data":{"name":"dPts"},
"encoding":{"x":{"field":"x","type":"ordinal","title":"Inter AP interval (ms)","scale":{"type":"point","padding":0.532},"axis":{"labelAngle":0,"tickSize":5,"labelPadding":3.5,"labelFontSize":10.5,"labelColor":"#555555","domainColor":"#8c8c8c","tickColor":"#8c8c8c","titleFontSize":15,"titleFontWeight":"normal","titleColor":"#222222","titleY":19.6,"titleX":105.5,"titleBaseline":"top","titleAlign":"center"}}},
"layer":[
{"transform":[{"filter":"datum.g === 'TTX'"}],"mark":{"type":"rule","color":"#8a8a8a","strokeWidth":1.3},"encoding":{"y":{"field":"lo","type":"quantitative","title":"Paired pulse ratio","scale":{"domain":[0,1.6],"nice":false},"axis":{"values":[0,0.5,1,1.5],"labelExpr":"datum.value === 0 ? '0' : format(datum.value, '.1f')","tickSize":6,"labelPadding":10,"labelFontSize":8.5,"labelColor":"#555555","domainColor":"#8c8c8c","tickColor":"#8c8c8c","titleFontSize":15,"titleFontWeight":"normal","titleColor":"#222222","titleX":-20,"titleY":99.5,"titleAngle":-90,"titleBaseline":"bottom","titleAlign":"center"}},"y2":{"field":"hi"}}},
{"transform":[{"filter":"datum.g === 'TTX'"}],"mark":{"type":"tick","color":"#8a8a8a","thickness":1.3,"size":12},"encoding":{"y":{"field":"lo","type":"quantitative","title":"Paired pulse ratio"}}},
{"transform":[{"filter":"datum.g === 'TTX'"}],"mark":{"type":"tick","color":"#8a8a8a","thickness":1.3,"size":12},"encoding":{"y":{"field":"hi","type":"quantitative","title":"Paired pulse ratio"}}},
{"transform":[{"filter":"datum.g === 'Control'"}],"mark":{"type":"rule","color":"#1c1c1c","strokeWidth":1.3},"encoding":{"y":{"field":"lo","type":"quantitative","title":"Paired pulse ratio"},"y2":{"field":"hi"}}},
{"transform":[{"filter":"datum.g === 'Control'"}],"mark":{"type":"tick","color":"#1c1c1c","thickness":1.3,"size":12},"encoding":{"y":{"field":"lo","type":"quantitative","title":"Paired pulse ratio"}}},
{"transform":[{"filter":"datum.g === 'Control'"}],"mark":{"type":"tick","color":"#1c1c1c","thickness":1.3,"size":12},"encoding":{"y":{"field":"hi","type":"quantitative","title":"Paired pulse ratio"}}},
{"transform":[{"filter":"datum.g === 'Control'"}],"mark":{"type":"circle","size":110,"color":"#1c1c1c","opacity":1},"encoding":{"y":{"field":"m","type":"quantitative","title":"Paired pulse ratio"}}},
{"transform":[{"filter":"datum.g === 'TTX'"}],"mark":{"type":"circle","size":110,"color":"#8a8a8a","opacity":1},"encoding":{"y":{"field":"m","type":"quantitative","title":"Paired pulse ratio"}}},
{"data":{"values":[{"x":50,"m":0.456,"s":"***"},{"x":75,"m":0.529,"s":"***"},{"x":100,"m":0.591,"s":"*"}]},"mark":{"type":"text","fontSize":16,"color":"#333333","baseline":"alphabetic","align":"center"},"encoding":{"y":{"field":"m","type":"quantitative","title":"Paired pulse ratio"},"text":{"field":"s"}}},
{"data":{"values":[{"x":250,"m":0.286,"s":"Control:"},{"x":250,"m":0.148,"s":"TTX-treated:"}]},"mark":{"type":"text","fontSize":15,"color":"#222222","align":"right","baseline":"alphabetic","dx":2},"encoding":{"y":{"field":"m","type":"quantitative","title":"Paired pulse ratio"},"text":{"field":"s"}}},
{"data":{"values":[{"x":250,"m":0.327,"g":"Control"},{"x":250,"m":0.186,"g":"TTX"}]},"mark":{"type":"text","fontSize":15,"baseline":"middle","align":"center","dx":10,"text":"●"},"encoding":{"y":{"field":"m","type":"quantitative","title":"Paired pulse ratio"},"color":{"condition":{"test":"datum.g === 'Control'","value":"#1c1c1c"},"value":"#8a8a8a"}}}
]},
{"width":146,"height":143,
"title":{"text":"f","anchor":"start","frame":"group","dx":-51.5,"offset":-16.4,"baseline":"alphabetic","fontSize":15,"fontWeight":"bold","color":"#111111"},
"data":{"name":"fBars"},
"encoding":{"x":{"field":"g","type":"nominal","title":null,"scale":{"paddingInner":0,"paddingOuter":0.16},"axis":{"domain":false,"ticks":false,"tickSize":0,"labelAngle":0,"labelFontSize":18,"labelColor":"#222222","labelPadding":4.7,"labelOffset":{"condition":{"test":"datum.value === 'Control'","value":1},"value":21}}}},
"layer":[
{"mark":{"type":"bar"},"encoding":{"y":{"field":"m","type":"quantitative","title":"EPSC5/EPSC1","scale":{"domain":[0,1],"nice":false},"axis":{"values":[0,0.5,1],"labelExpr":"datum.value === 0 ? '0' : format(datum.value, '.1f')","tickSize":5.7,"labelPadding":10,"labelFontSize":8.5,"labelColor":"#555555","domainColor":"#8c8c8c","tickColor":"#8c8c8c","titleFontSize":15,"titleFontWeight":"normal","titleColor":"#222222","titleX":-23.5,"titleY":69.5,"titleAngle":-90,"titleBaseline":"bottom","titleAlign":"center"}},"color":{"condition":{"test":"datum.g === 'Control'","value":"#232323"},"value":"#858585"}}},
{"mark":{"type":"rule","color":"#7d7d7d","strokeWidth":1.5},"encoding":{"y":{"field":"m","type":"quantitative","title":"EPSC5/EPSC1"},"y2":{"field":"e"}}},
{"mark":{"type":"tick","color":"#7d7d7d","thickness":1.5,"size":33},"encoding":{"y":{"field":"e","type":"quantitative","title":"EPSC5/EPSC1"}}},
{"data":{"name":"fBr"},"mark":{"type":"line","color":"#333333","strokeWidth":1.3},"encoding":{"y":{"field":"m","type":"quantitative","title":"EPSC5/EPSC1"},"order":{"field":"o","type":"quantitative"}}},
{"data":{"values":[{"g":"Control","m":0.923,"s":"**"}]},"mark":{"type":"text","fontSize":20,"color":"#222222","baseline":"alphabetic","align":"center"},"encoding":{"x":{"field":"g","type":"nominal","title":null,"bandPosition":1},"y":{"field":"m","type":"quantitative","title":"EPSC5/EPSC1"},"text":{"field":"s"}}}
]}
]}
]}
],
"spacing":28
}
